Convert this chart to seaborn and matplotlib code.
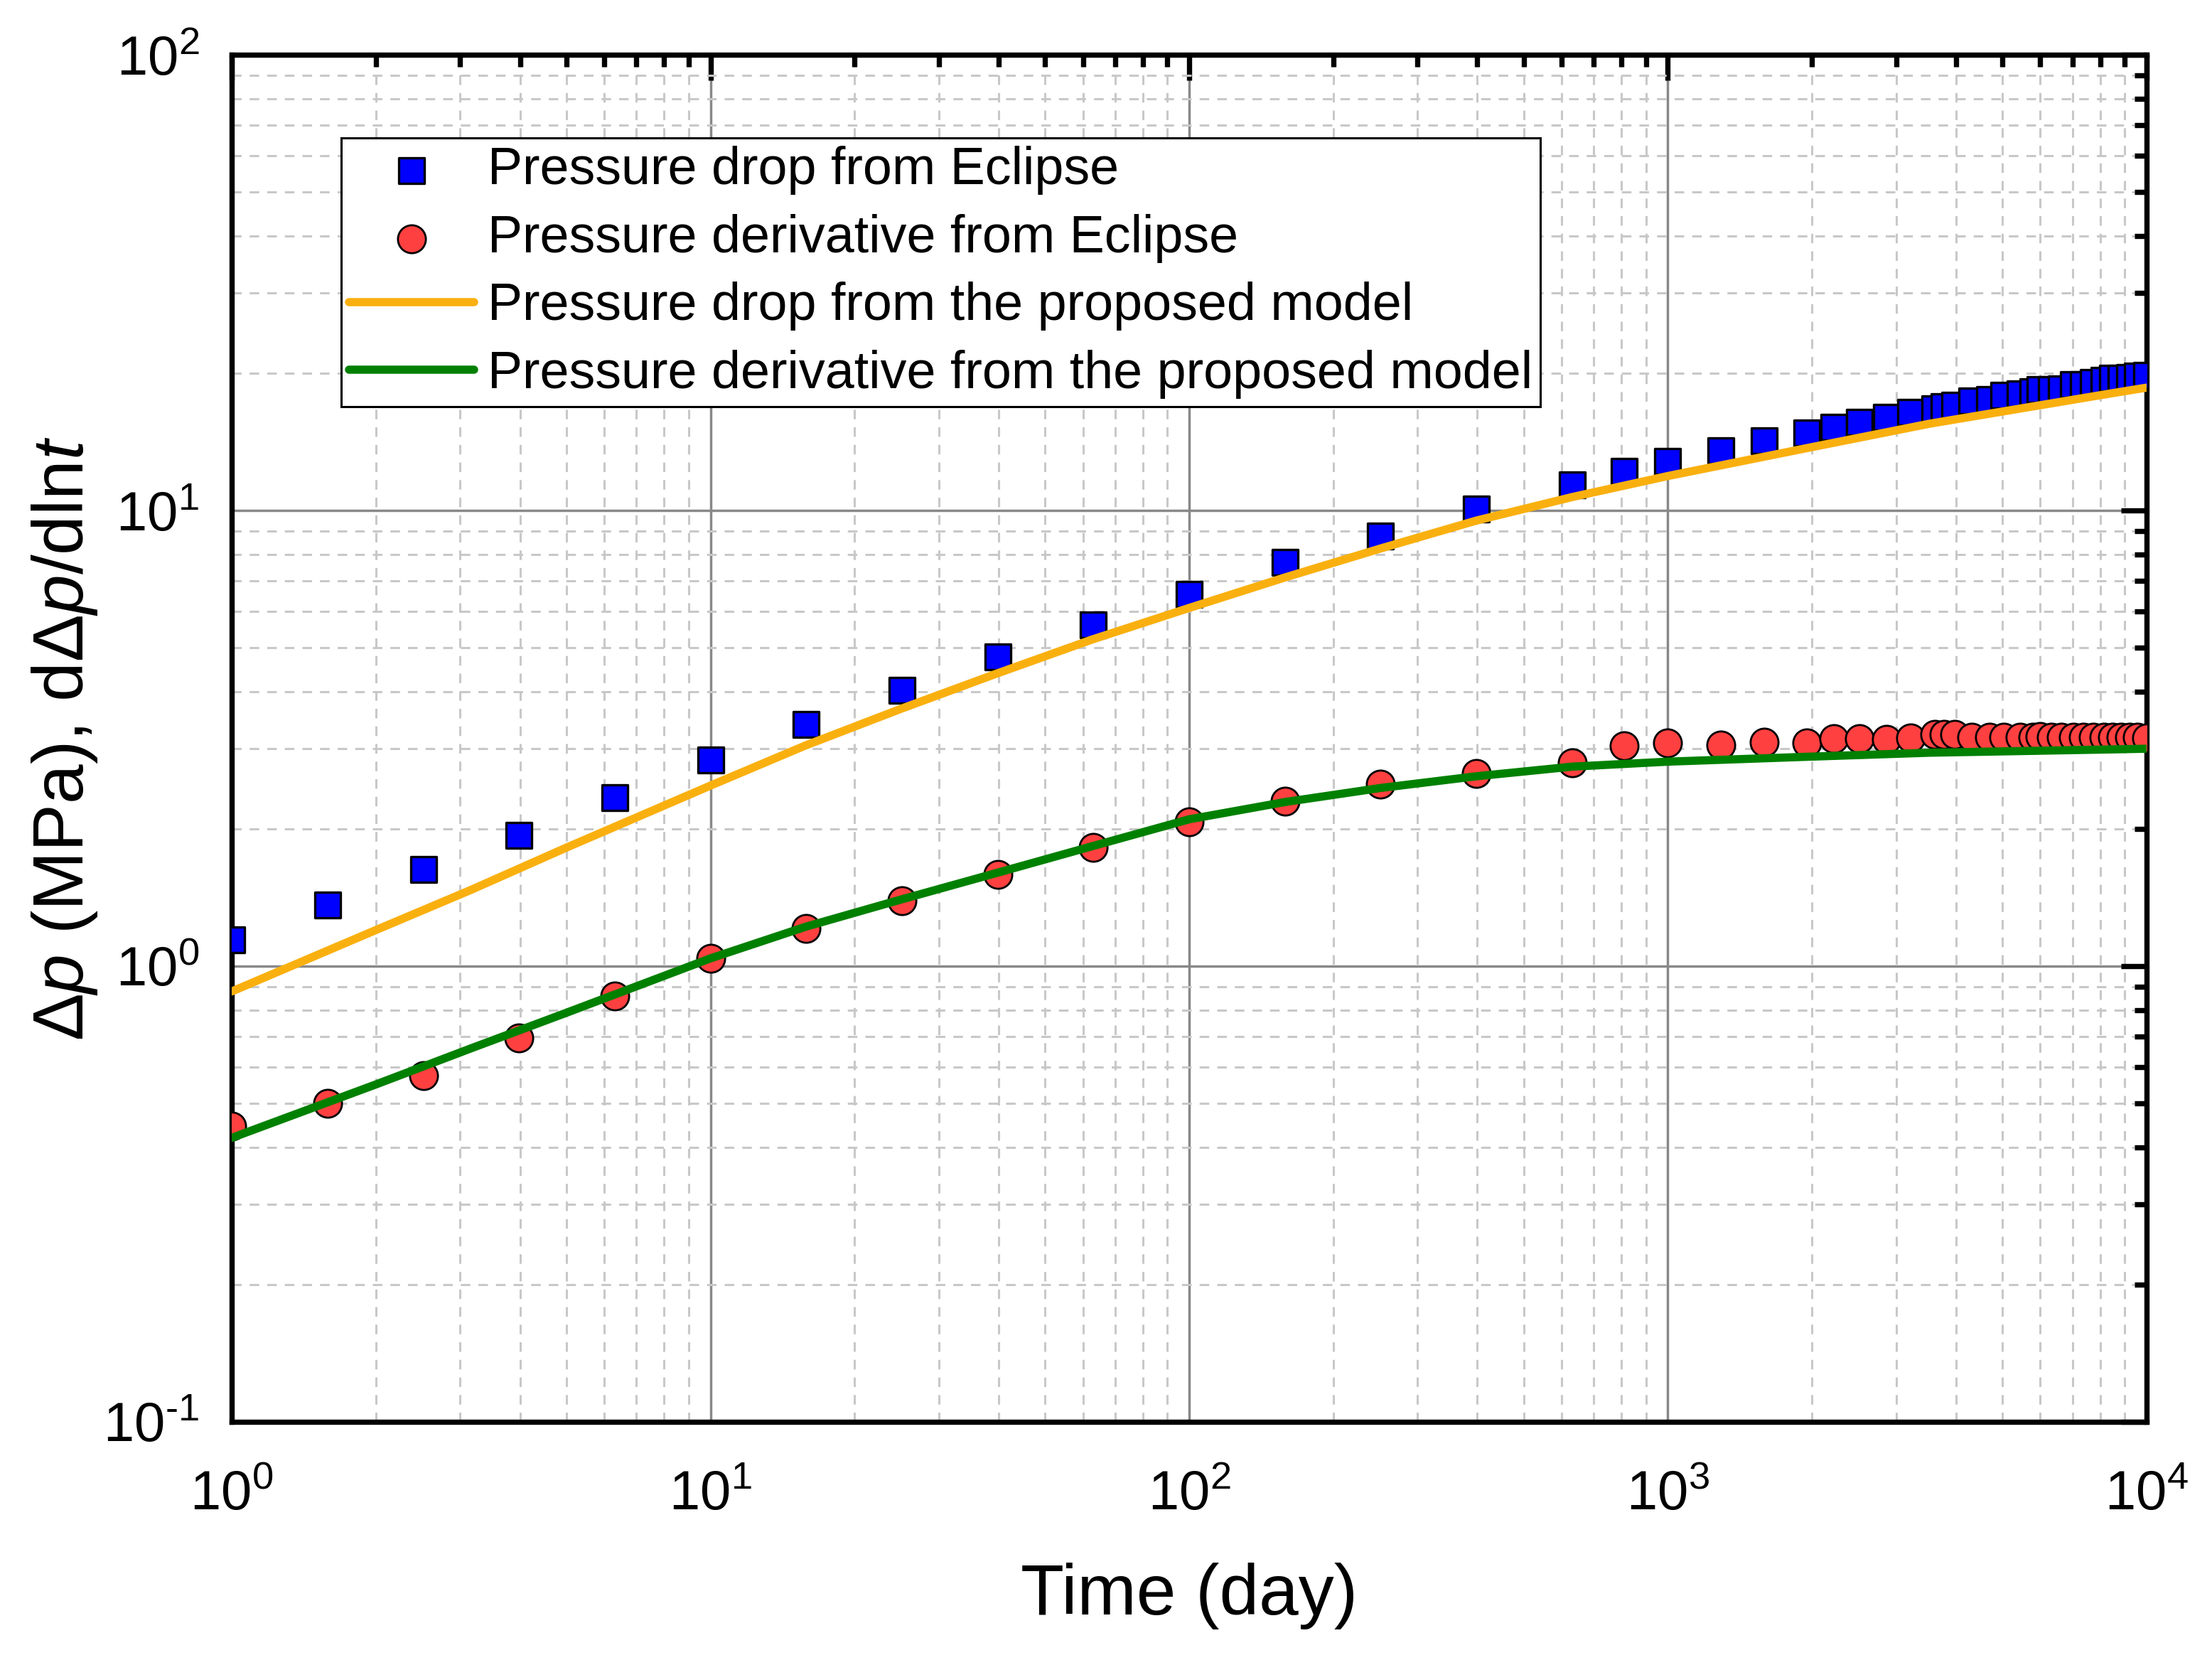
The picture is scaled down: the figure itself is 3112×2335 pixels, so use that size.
import numpy as np
import pandas as pd
import matplotlib
matplotlib.use('Agg')
import matplotlib.pyplot as plt
import seaborn as sns
from matplotlib.ticker import LogLocator, FuncFormatter, NullFormatter

# Eclipse simulation points (time in days)
t_sim = [1, 1.585, 2.512, 3.981, 6.31, 10, 15.85, 25.12, 39.81, 63.1, 100, 158.5,
         251.2, 398.1, 631, 810, 1000, 1290, 1590, 1950, 2220, 2510, 2860, 3220,
         3610, 3780, 3980, 4320, 4700, 5040, 5450, 5790, 6000, 6320, 6640, 7030,
         7380, 7750, 8140, 8480, 8850, 9230, 9580, 10000]
dp_sim = [1.14, 1.36, 1.63, 1.94, 2.34, 2.83, 3.39, 4.03, 4.77, 5.61, 6.55, 7.68,
          8.79, 10.07, 11.4, 12.2, 12.8, 13.5, 14.2, 14.8, 15.2, 15.6, 16.0, 16.4,
          16.7, 16.9, 17.0, 17.4, 17.5, 17.9, 18.0, 18.2, 18.4, 18.4, 18.5, 18.9,
          18.9, 19.1, 19.3, 19.5, 19.5, 19.6, 19.7, 19.8]
der_sim = [0.446, 0.50, 0.575, 0.695, 0.86, 1.04, 1.21, 1.39, 1.59, 1.82, 2.07, 2.30,
           2.51, 2.65, 2.79, 3.05, 3.09, 3.06, 3.10, 3.09, 3.16, 3.16, 3.14, 3.17,
           3.22, 3.23, 3.22, 3.18, 3.18, 3.18, 3.18, 3.18, 3.19, 3.18, 3.18, 3.18,
           3.18, 3.18, 3.18, 3.18, 3.18, 3.18, 3.18, 3.17]

# proposed model curves
t_model = [1, 2, 3.16, 5, 10, 15.8, 25, 39.5, 62.4, 100, 158, 251, 398, 631, 1000,
           1950, 3520, 8520, 10000]
dp_model = [0.88, 1.20, 1.47, 1.82, 2.49, 3.05, 3.67, 4.38, 5.20, 6.11, 7.12, 8.25,
            9.50, 10.7, 11.9, 13.7, 15.5, 18.1, 18.6]
der_model = [0.42, 0.55, 0.66, 0.79, 1.04, 1.22, 1.40, 1.60, 1.83, 2.10, 2.29, 2.46,
             2.61, 2.74, 2.81, 2.88, 2.94, 2.99, 3.0]

labels = ['Pressure drop from Eclipse', 'Pressure derivative from Eclipse',
          'Pressure drop from the proposed model', 'Pressure derivative from the proposed model']

sns.set_style('white')
plt.rcParams['font.family'] = ['Liberation Sans', 'DejaVu Sans']
plt.rcParams['text.color'] = 'black'
plt.rcParams['axes.labelcolor'] = 'black'
plt.rcParams['axes.unicode_minus'] = False
plt.rcParams['mathtext.fontset'] = 'custom'
plt.rcParams['mathtext.rm'] = 'Liberation Sans'
plt.rcParams['mathtext.it'] = 'Liberation Sans:italic'
plt.rcParams['mathtext.bf'] = 'Liberation Sans:bold'


def pow10_label(val, pos):
    # 10^n with a short hyphen for negative exponents
    e = int(round(np.log10(val)))
    if e < 0:
        return r'$\mathdefault{10^{\text{-}%d}}$' % (-e)
    return r'$\mathdefault{10^{%d}}$' % e


fig = plt.figure(figsize=(31.12, 23.35), dpi=100)
ax = fig.add_axes([0.1048, 0.1435, 0.8656, 0.8235])

sns.scatterplot(x=t_sim, y=dp_sim, marker='s', s=660, color='#0000ff',
                edgecolor='black', linewidth=2.4, label=labels[0], ax=ax, zorder=3)
sns.scatterplot(x=t_sim, y=der_sim, marker='o', s=800, color='#ff4040',
                edgecolor='black', linewidth=2.0, label=labels[1], ax=ax, zorder=3)
sns.lineplot(x=t_model, y=dp_model, color='#f9b00f', linewidth=8.3,
             label=labels[2], ax=ax, zorder=4, sort=False)
sns.lineplot(x=t_model, y=der_model, color='#008000', linewidth=8.3,
             label=labels[3], ax=ax, zorder=4, sort=False)

ax.set_xscale('log')
ax.set_yscale('log')
ax.set_xlim(1, 1e4)
ax.set_ylim(0.1, 100)

for axis in (ax.xaxis, ax.yaxis):
    axis.set_major_locator(LogLocator(base=10, numticks=10))
    axis.set_minor_locator(LogLocator(base=10, subs=np.arange(2, 10), numticks=50))
    axis.set_major_formatter(FuncFormatter(pow10_label))
    axis.set_minor_formatter(NullFormatter())

ax.grid(which='major', color='#888888', linestyle='-', linewidth=2.5, zorder=0)
ax.grid(which='minor', color='#c8c8c8', linestyle=(0, (4.4, 3.7)), linewidth=2.2, zorder=0)
ax.set_axisbelow(True)

for sp in ax.spines.values():
    sp.set_linewidth(5.3)
    sp.set_color('black')

ax.tick_params(which='both', direction='in', top=True, right=True, colors='black')
ax.tick_params(which='major', length=25.6, width=5.3, labelsize=56)
ax.tick_params(axis='x', which='major', pad=48)
ax.tick_params(axis='y', which='major', pad=33)
ax.tick_params(which='minor', length=12, width=5.3)

ax.set_xlabel('Time (day)', fontsize=72, labelpad=42)
ax.set_ylabel(r'$\Delta p$ (MPa), d$\Delta p$/dln$t$', fontsize=72, labelpad=4)

leg = ax.legend(loc='upper left', bbox_to_anchor=(0.057, 0.939), borderaxespad=0,
                fontsize=53, frameon=True, fancybox=False, shadow=False,
                handlelength=2.4, handletextpad=0.25, borderpad=0.15,
                labelspacing=0.36, scatterpoints=1)
leg.get_frame().set_edgecolor('black')
leg.get_frame().set_linewidth(2.2)
leg.get_frame().set_alpha(1)

fig.savefig('out.png', dpi=100)
